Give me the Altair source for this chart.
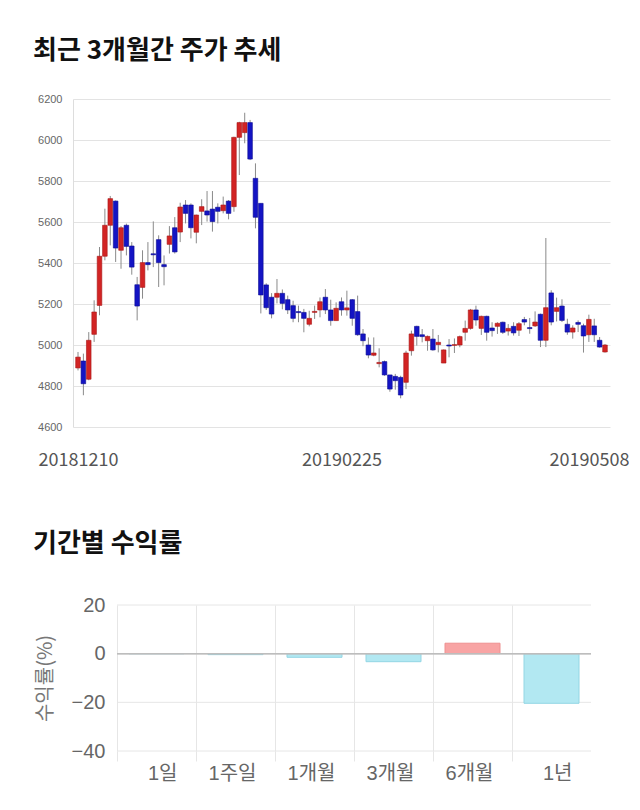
import altair as alt
import pandas as pd

# ---------------- data ----------------
opens = [4888, 4922, 4833, 5052, 5193, 5433, 5584, 5702, 5462, 5584,
         5483, 5294, 5281, 5402, 5445, 5514, 5392, 5491, 5572, 5551,
         5683, 5683, 5550, 5652, 5654, 5663, 5672, 5655, 5702, 5675,
         6013, 6036, 6085, 5813, 5691, 5293, 5233, 5233, 5252, 5221,
         5192, 5163, 5159, 5101, 5159, 5171, 5233, 5171, 5119, 5211,
         5171, 5221, 5163, 5054, 5000, 4950, 4909, 4919, 4854, 4847,
         4842, 4818, 4972, 5091, 5050, 5021, 5029, 5002, 4912, 5000,
         4998, 5000, 5062, 5081, 5171, 5081, 5140, 5083, 5091, 5111,
         5068, 5091, 5072, 5124, 5085, 5093, 5150, 5023, 5254, 5164,
         5190, 5101, 5063, 5110, 5094, 5050, 5093, 5023, 4966]
highs = [4966, 4958, 5063, 5218, 5478, 5665, 5727, 5705, 5580, 5592,
         5502, 5332, 5462, 5502, 5603, 5535, 5437, 5580, 5624, 5694,
         5707, 5691, 5636, 5711, 5751, 5751, 5691, 5724, 5707, 6016,
         6089, 6133, 6098, 5886, 5691, 5301, 5253, 5322, 5271, 5241,
         5216, 5192, 5176, 5167, 5192, 5232, 5273, 5221, 5208, 5232,
         5265, 5224, 5241, 5078, 5037, 5037, 4984, 4924, 4854, 4859,
         4850, 4972, 5070, 5094, 5078, 5046, 5078, 5049, 4978, 5029,
         5032, 5046, 5119, 5176, 5192, 5143, 5143, 5111, 5111, 5114,
         5102, 5111, 5112, 5137, 5132, 5164, 5153, 5522, 5267, 5231,
         5223, 5128, 5096, 5120, 5104, 5148, 5128, 5039, 5005]
lows = [4876, 4755, 4828, 5015, 5145, 5413, 5486, 5405, 5372, 5437,
        5343, 5120, 5226, 5364, 5380, 5283, 5291, 5446, 5446, 5502,
        5593, 5520, 5496, 5585, 5602, 5553, 5593, 5642, 5613, 5650,
        5829, 5984, 5902, 5569, 5154, 5171, 5130, 5203, 5174, 5151,
        5111, 5111, 5062, 5091, 5127, 5135, 5151, 5094, 5119, 5143,
        5143, 5094, 5045, 4994, 4935, 4945, 4891, 4850, 4772, 4782,
        4740, 4785, 4948, 4997, 5013, 4972, 4972, 4964, 4912, 4940,
        4961, 4989, 5021, 5075, 5094, 5049, 5021, 5041, 5054, 5054,
        5046, 5046, 5044, 5096, 5055, 5088, 4990, 4990, 5096, 5115,
        5112, 5050, 5031, 5063, 4963, 5015, 5015, 4987, 4963]
closes = [4941, 4811, 5023, 5161, 5433, 5584, 5714, 5473, 5572, 5481,
          5380, 5190, 5402, 5392, 5440, 5402, 5382, 5532, 5454, 5673,
          5642, 5572, 5634, 5675, 5634, 5602, 5652, 5683, 5642, 6013,
          6085, 6085, 5907, 5623, 5244, 5182, 5151, 5252, 5203, 5171,
          5130, 5158, 5130, 5130, 5164, 5211, 5171, 5119, 5179, 5171,
          5181, 5130, 5050, 5021, 4951, 4961, 4915, 4854, 4785, 4826,
          4756, 4961, 5054, 5042, 5041, 5042, 4976, 5013, 4976, 4995,
          5002, 5041, 5081, 5171, 5122, 5140, 5062, 5070, 5106, 5062,
          5081, 5059, 5104, 5112, 5080, 5112, 5023, 5182, 5112, 5182,
          5120, 5063, 5083, 5101, 5044, 5125, 5050, 4990, 5000]

date_tick_index = [0, 49, 98]
date_tick_labels = ["20181210", "20190225", "20190508"]
price_ticks = [4600, 4800, 5000, 5200, 5400, 5600, 5800, 6000, 6200]

periods = ["1일", "1주일", "1개월", "3개월", "6개월", "1년"]
returns = [0.0, -0.4, -1.5, -3.3, 4.3, -20.4]
return_ticks = [20, 0, -20, -40]

# ---------------- tables ----------------
candles = pd.DataFrame({
    "i": list(range(len(opens))),
    "open": opens, "high": highs, "low": lows, "close": closes,
})
candles["dir"] = ["up" if c >= o else "down" for o, c in zip(opens, closes)]

ret_df = pd.DataFrame({"period": periods, "ret": returns})
grid_df = pd.DataFrame({"v": return_ticks})

KR = "Noto Sans CJK KR"
NUM = "Liberation Sans, Noto Sans CJK KR"

label_expr = "{}[indexof({}, datum.value)]".format(
    str(date_tick_labels), str(date_tick_index))

# ---------------- top: candlestick ----------------
x_top = alt.X(
    "i:Q",
    scale=alt.Scale(domain=[0, len(opens) - 1], nice=False, zero=False),
    axis=alt.Axis(
        values=date_tick_index, labelExpr=label_expr, grid=False, ticks=False,
        domain=False, title=None, labelFont=KR, labelFontSize=18,
        labelColor="#555", labelPadding=24, labelFlush=False,
        labelOffset={"condition": [
            {"test": "datum.value == 98", "value": -16}], "value": 0},
    ),
)
y_scale_top = alt.Scale(domain=[4600, 6200], nice=False, zero=False)
y_axis_top = alt.Axis(
    values=price_ticks, format="d", grid=True, gridColor="#e3e3e3", ticks=False,
    domain=True, domainColor="#dddddd", title=None, labelFont=NUM,
    labelFontSize=11, labelColor="#666", labelPadding=11,
)

wicks = alt.Chart(candles).mark_rule(color="#8a8a8a", strokeWidth=1).encode(
    x=x_top,
    y=alt.Y("low:Q", scale=y_scale_top, axis=y_axis_top),
    y2="high:Q",
)
bodies = alt.Chart(candles).mark_bar(width=4.6, strokeWidth=0.6).encode(
    x=x_top,
    y=alt.Y("open:Q", scale=y_scale_top, axis=y_axis_top),
    y2="close:Q",
    color=alt.Color("dir:N", scale=alt.Scale(domain=["up", "down"],
                    range=["#d22424", "#1414c4"]), legend=None),
    stroke=alt.Stroke("dir:N", scale=alt.Scale(domain=["up", "down"],
                      range=["#a81616", "#0a0a90"]), legend=None),
)

top = alt.layer(wicks, bodies).properties(
    width=537, height=328,
    title=alt.TitleParams(
        "최근 3개월간 주가 추세", anchor="start", frame="group", dx=-40,
        offset=29, font=KR, fontSize=26, fontWeight="bold", color="#111"),
)

# ---------------- bottom: returns ----------------
x_bot = alt.X(
    "period:N", sort=periods,
    scale=alt.Scale(paddingInner=0, paddingOuter=0.2785, align=1),
    axis=alt.Axis(
        bandPosition=0, grid=True, gridColor="#e6e6e6", ticks=True,
        tickSize=10, tickColor="#e6e6e6", domain=False, labelOffset=21,
        labelAngle=0, labelPadding=12, title=None, labelFont=NUM,
        labelFontSize=20, labelColor="#666"),
)
y_scale_bot = alt.Scale(domain=[-40, 20], nice=False)
y_bot = alt.Y(
    "ret:Q", scale=y_scale_bot,
    axis=alt.Axis(
        values=return_ticks, grid=False, ticks=False, offset=-44,
        domain=False, title="수익률(%)", titleFont=KR, titleFontSize=20,
        titleFontWeight="normal", titleColor="#777", titlePadding=16,
        labelFont=NUM, labelFontSize=20, labelColor="#666", labelPadding=12),
)

hgrid = alt.Chart(grid_df).mark_rule(color="#e6e6e6", strokeWidth=1).encode(
    y=alt.Y("v:Q", scale=y_scale_bot),
    x=alt.XDatum(datum=periods[0], bandPosition=0),
    x2=alt.value("width"),
)
bars = alt.Chart(ret_df).mark_bar(size=55, strokeWidth=1).encode(
    x=x_bot, y=y_bot,
    color=alt.condition("datum.ret > 0", alt.value("#f8a4a4"), alt.value("#b2e8f2")),
    stroke=alt.condition("datum.ret > 0", alt.value("#ee9090"), alt.value("#93d6e4")),
)
zero = alt.Chart(ret_df).mark_rule(color="#bdbdbd", strokeWidth=1).encode(
    y=alt.datum(0),
    x=alt.XDatum(datum=periods[0], bandPosition=0),
    x2=alt.value("width"),
)

bottom = alt.layer(hgrid, bars, zero).properties(
    width=518, height=146,
    title=alt.TitleParams(
        "기간별 수익률", anchor="start", frame="group", dx=-40,
        offset=38, font=KR, fontSize=26, fontWeight="bold", color="#111"),
)

chart = alt.vconcat(top, bottom, spacing=62).properties(
    padding={"left": 33, "top": 38, "right": 0, "bottom": 0},
    background="white",
).configure_view(strokeWidth=0)

chart.save("out.html", embed_options={"renderer": "svg", "actions": False})
